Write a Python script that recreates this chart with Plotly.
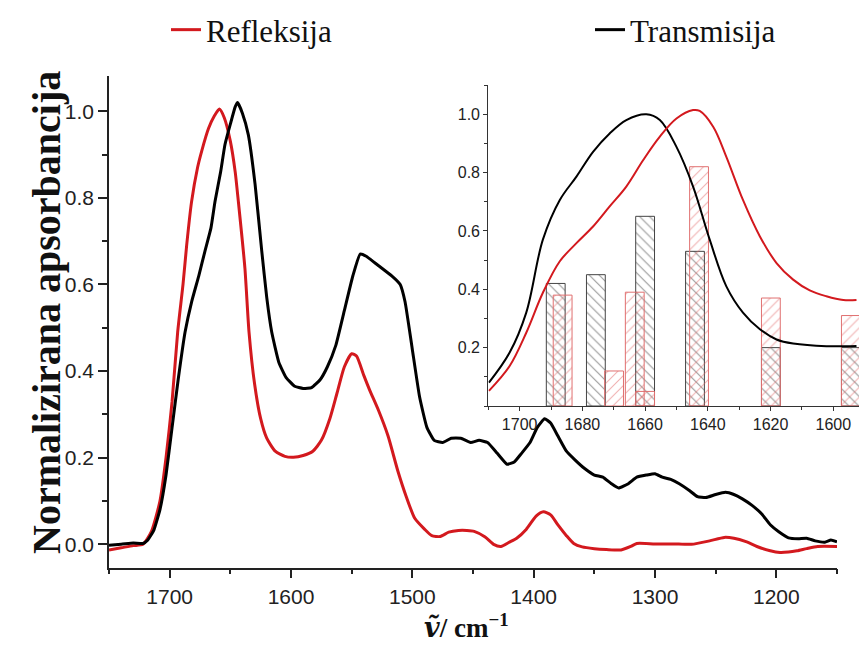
import plotly.graph_objects as go

# ---------------- main spectra ----------------
refl_x = [1750, 1740, 1730, 1722, 1715, 1708, 1703, 1698, 1693.4, 1689, 1686, 1682, 1677, 1673.6,
          1668, 1663, 1659, 1655, 1650, 1646, 1643.4, 1638, 1634.6, 1630, 1625, 1620, 1613, 1605,
          1598, 1590, 1582, 1575, 1568, 1562, 1556, 1550, 1546, 1540, 1535, 1528, 1520, 1512, 1505,
          1498, 1490, 1484, 1477, 1470, 1462, 1455, 1449, 1440, 1433, 1427, 1420, 1414, 1406, 1398,
          1392, 1386, 1380, 1373, 1367, 1360, 1350, 1340, 1328, 1320, 1315, 1300, 1285, 1270, 1255,
          1243, 1235, 1225, 1216, 1205, 1197, 1190, 1183, 1175, 1166, 1150]
refl_y = [-0.013, -0.008, -0.003, 0.0, 0.03, 0.10, 0.20, 0.33, 0.49, 0.60, 0.69, 0.79, 0.87, 0.908,
          0.96, 0.99, 1.005, 0.985, 0.931, 0.86, 0.792, 0.638, 0.49, 0.37, 0.29, 0.245, 0.215, 0.203,
          0.201, 0.205, 0.215, 0.24, 0.29, 0.35, 0.41, 0.44, 0.435, 0.39, 0.355, 0.31, 0.25, 0.17, 0.11,
          0.06, 0.035, 0.02, 0.018, 0.028, 0.032, 0.032, 0.03, 0.017, 0.0, -0.005, 0.005, 0.014, 0.035,
          0.065, 0.075, 0.068, 0.045, 0.02, 0.002, -0.006, -0.01, -0.012, -0.013, -0.005, 0.002, 0.001,
          0.001, 0.0, 0.008, 0.016, 0.014, 0.006, -0.005, -0.015, -0.019, -0.018, -0.015, -0.01, -0.005,
          -0.005]

trans_x = [1750, 1740, 1730, 1722, 1718, 1713, 1708, 1703, 1698, 1693, 1687.3, 1681.8, 1676, 1670.9,
           1666, 1662.6, 1658, 1654.4, 1650, 1646, 1644, 1640, 1635.2, 1629.6, 1624.1, 1620,
           1615.9, 1610, 1604, 1597, 1590, 1583, 1576, 1570, 1563, 1556, 1549, 1543, 1538, 1531, 1524,
           1517, 1510, 1506, 1500, 1494, 1488, 1482, 1475, 1468, 1460, 1452, 1445, 1438, 1430, 1422,
           1416, 1410, 1403, 1397, 1391, 1386, 1380, 1373, 1366, 1358, 1350, 1343, 1336, 1330, 1322,
           1315, 1307, 1300, 1294, 1287, 1280, 1272, 1265, 1258, 1250, 1242, 1235, 1228, 1220, 1212,
           1205, 1198, 1190, 1182, 1175, 1168, 1160, 1155, 1150]
trans_y = [-0.002, 0.0, 0.003, 0.002, 0.01, 0.033, 0.08, 0.16, 0.27, 0.38, 0.49, 0.561, 0.62, 0.677,
           0.73, 0.792, 0.86, 0.923, 0.97, 1.01, 1.02, 0.995, 0.946, 0.831, 0.677, 0.57,
           0.49, 0.42, 0.385, 0.365, 0.36, 0.362, 0.38, 0.41, 0.46, 0.54, 0.62, 0.67, 0.665, 0.65, 0.635,
           0.62, 0.60, 0.56, 0.45, 0.34, 0.27, 0.24, 0.235, 0.245, 0.245, 0.235, 0.24, 0.235, 0.21, 0.185,
           0.19, 0.21, 0.235, 0.27, 0.29, 0.28, 0.25, 0.215, 0.195, 0.175, 0.16, 0.155, 0.14, 0.13, 0.14,
           0.155, 0.16, 0.163, 0.155, 0.15, 0.14, 0.125, 0.11, 0.108, 0.115, 0.12, 0.115, 0.105, 0.09, 0.07,
           0.045, 0.029, 0.015, 0.013, 0.014, 0.008, 0.005, 0.01, 0.006]

# ---------------- inset spectra ----------------
in_trans_x = [1709.8, 1703.2, 1697.9, 1692.6, 1687.2, 1681.9, 1676.6, 1671.3, 1666.0, 1659.6, 1655.3,
              1650.0, 1644.7, 1639.4, 1634.1, 1628.8, 1623.4, 1618.1, 1612.8, 1602.2, 1592.6]
in_trans_y = [0.080, 0.183, 0.32, 0.57, 0.706, 0.786, 0.871, 0.934, 0.98, 1.0, 0.98,
              0.888, 0.752, 0.57, 0.41, 0.32, 0.263, 0.228, 0.214, 0.205, 0.206]
in_refl_x = [1709.8, 1703.2, 1697.9, 1692.6, 1687.2, 1681.9, 1676.6, 1671.3, 1666.0, 1660.6, 1655.3,
             1650.0, 1644.7, 1642.6, 1638.3, 1634.1, 1628.8, 1623.4, 1618.1, 1612.8, 1607.5, 1602.2,
             1596.8, 1592.6]
in_refl_y = [0.052, 0.137, 0.251, 0.388, 0.496, 0.558, 0.615, 0.684, 0.752, 0.843, 0.923,
             0.985, 1.014, 1.011, 0.957, 0.854, 0.706, 0.581, 0.49, 0.433, 0.396, 0.376,
             0.363, 0.363]

# ---------------- inset bars (band components) ----------------
bar_trans_x = [1688.5, 1675.7, 1660.0, 1644.1, 1619.9, 1594.4]
bar_trans_y = [0.42, 0.45, 0.65, 0.53, 0.20, 0.20]
bar_refl_x = [1686.3, 1669.9, 1663.3, 1660.0, 1642.8, 1619.9, 1594.4]
bar_refl_y = [0.38, 0.12, 0.39, 0.05, 0.82, 0.37, 0.31]

main_x_ticks = [1700, 1600, 1500, 1400, 1300, 1200]
main_y_ticks = [0.0, 0.2, 0.4, 0.6, 0.8, 1.0]
inset_x_ticks = [1700, 1680, 1660, 1640, 1620, 1600]
inset_y_ticks = [0.2, 0.4, 0.6, 0.8, 1.0]

RED = "#d3191e"
BLACK = "#000000"
W, H = 859, 649

fig = go.Figure()

fig.add_trace(go.Scatter(x=refl_x, y=refl_y, mode="lines", name="Refleksija",
                         line=dict(color=RED, width=3, shape="spline", smoothing=0.6),
                         legend="legend", xaxis="x", yaxis="y"))
fig.add_trace(go.Scatter(x=trans_x, y=trans_y, mode="lines", name="Transmisija",
                         line=dict(color=BLACK, width=3, shape="spline", smoothing=0.4),
                         legend="legend2", xaxis="x", yaxis="y"))

# inset bars
fig.add_trace(go.Bar(x=bar_trans_x, y=bar_trans_y, width=6, xaxis="x2", yaxis="y2",
                     showlegend=False,
                     marker=dict(color="rgba(0,0,0,0)",
                                 line=dict(color="#444444", width=1),
                                 pattern=dict(shape="\\", fgcolor="#333333", bgcolor="rgba(0,0,0,0)",
                                              size=7, solidity=0.16, fillmode="overlay"))))
fig.add_trace(go.Bar(x=bar_refl_x, y=bar_refl_y, width=6, xaxis="x2", yaxis="y2",
                     showlegend=False,
                     marker=dict(color="rgba(0,0,0,0)",
                                 line=dict(color="#e07070", width=1),
                                 pattern=dict(shape="/", fgcolor="#e06060", bgcolor="rgba(0,0,0,0)",
                                              size=7, solidity=0.15, fillmode="overlay"))))
fig.add_trace(go.Scatter(x=in_trans_x, y=in_trans_y, mode="lines", showlegend=False,
                         line=dict(color=BLACK, width=2, shape="spline", smoothing=1.0),
                         xaxis="x2", yaxis="y2"))
fig.add_trace(go.Scatter(x=in_refl_x, y=in_refl_y, mode="lines", showlegend=False,
                         line=dict(color=RED, width=2, shape="spline", smoothing=1.0),
                         xaxis="x2", yaxis="y2"))

tickfont_main = dict(family="Liberation Sans, Arial", size=21, color="#222222")
tickfont_in = dict(family="Liberation Sans, Arial", size=16, color="#222222")
serif = "Liberation Serif, Times New Roman, serif"

fig.update_layout(
    width=W, height=H,
    margin=dict(l=0, r=0, t=0, b=0, autoexpand=False),
    paper_bgcolor="white", plot_bgcolor="rgba(0,0,0,0)",
    barmode="overlay",
    xaxis=dict(domain=[109 / W, 837 / W], range=[1750, 1150], tickvals=main_x_ticks,
               ticks="outside", ticklen=9, tickwidth=1.5, tickcolor="#222",
               showline=True, linecolor="#222", linewidth=1.5, showgrid=False, zeroline=False,
               tickfont=tickfont_main, anchor="y",
               minor=dict(dtick=50, tick0=1150, ticks="outside", ticklen=5, tickwidth=1.5,
                          tickcolor="#222", showgrid=False)),
    yaxis=dict(domain=[1 - 567.7 / H, 1 - 75.7 / H], range=[-0.054, 1.082], tickvals=main_y_ticks,
               tickformat=".1f", ticks="outside", ticklen=9, tickwidth=1.5, tickcolor="#222",
               showline=True, linecolor="#222", linewidth=1.5, showgrid=False, zeroline=False,
               tickfont=tickfont_main, anchor="x",
               minor=dict(dtick=0.1, tick0=0, ticks="outside", ticklen=5, tickwidth=1.5,
                          tickcolor="#222", showgrid=False)),
    xaxis2=dict(domain=[488.3 / W, 1.0], range=[1710, 1591.8], tickvals=inset_x_ticks,
                ticks="outside", ticklen=4, tickwidth=1, tickcolor="#333",
                showline=True, linecolor="#333", linewidth=1.2, showgrid=False, zeroline=False,
                tickfont=tickfont_in, anchor="y2",
                minor=dict(dtick=10, tick0=1600, ticks="outside", ticklen=3, tickwidth=1,
                           tickcolor="#333", showgrid=False)),
    yaxis2=dict(domain=[1 - 406 / H, 1 - 85 / H], range=[0, 1.1], tickvals=inset_y_ticks,
                tickformat=".1f", ticks="outside", ticklen=4, tickwidth=1, tickcolor="#333",
                showline=True, linecolor="#333", linewidth=1.2, showgrid=False, zeroline=False,
                tickfont=tickfont_in, anchor="x2",
                minor=dict(dtick=0.1, tick0=0, ticks="outside", ticklen=3, tickwidth=1,
                           tickcolor="#333", showgrid=False)),
    legend=dict(x=166 / W, y=1 - 30 / H, xanchor="left", yanchor="middle",
                bgcolor="rgba(0,0,0,0)",
                font=dict(family=serif, size=31, color="#111")),
    legend2=dict(x=590 / W, y=1 - 30 / H, xanchor="left", yanchor="middle",
                 bgcolor="rgba(0,0,0,0)",
                 font=dict(family=serif, size=31, color="#111")),
    annotations=[
        dict(text="<b>Normalizirana apsorbancija</b>", textangle=-90, xref="paper", yref="paper",
             x=46 / W, y=1 - 313 / H, xanchor="center", yanchor="middle", showarrow=False,
             font=dict(family=serif, size=40, color="#111")),
        dict(text="<b><i><span style='font-family:DejaVu Serif'>\u1e7d</span></i>/ cm<sup>\u22121</sup></b>",
             xref="paper", yref="paper",
             x=466 / W, y=1 - 626 / H, xanchor="center", yanchor="middle", showarrow=False,
             font=dict(family=serif, size=27, color="#111")),
    ],
)

fig.write_html("out.html", config={"displayModeBar": False},
               post_script="document.body.style.margin='0';document.body.style.padding='0';")
